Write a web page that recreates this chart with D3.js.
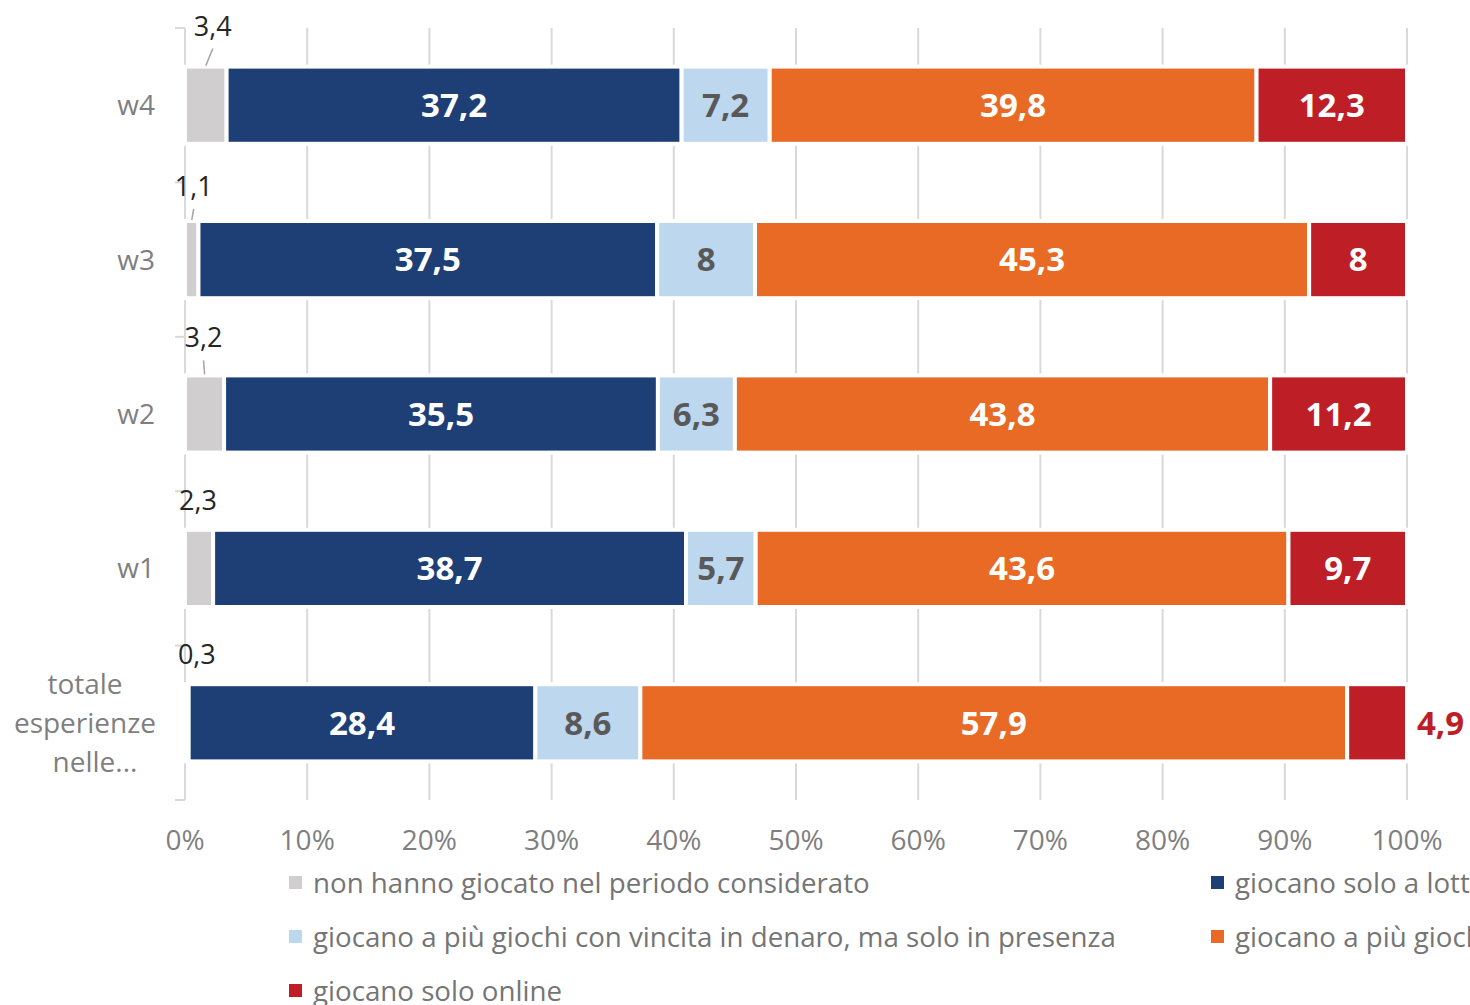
<!DOCTYPE html>
<html>
<head>
<meta charset="utf-8">
<script src="https://cdn.jsdelivr.net/npm/d3@7"></script>
<style>
  body { margin: 0; background: #fff; }
  svg { display: block; font-family: "Open Sans", "Noto Sans", sans-serif; }
</style>
</head>
<body>
<svg id="chart" width="1470" height="1005"></svg>
<script>
// data
var categories = ["w4", "w3", "w2", "w1", "totale esperienze nelle..."];
var seriesNames = [
  "non hanno giocato nel periodo considerato",
  "giocano solo a lotterie e gratta e vinci",
  "giocano a più giochi con vincita in denaro, ma solo in presenza",
  "giocano a più giochi con vincita in denaro, anche online",
  "giocano solo online"
];
var nonGiocato   = [3.4, 1.1, 3.2, 2.3, 0.3];
var soloLotterie = [37.2, 37.5, 35.5, 38.7, 28.4];
var soloPresenza = [7.2, 8, 6.3, 5.7, 8.6];
var piuGiochi    = [39.8, 45.3, 43.8, 43.6, 57.9];
var soloOnline   = [12.3, 8, 11.2, 9.7, 4.9];
var tickValues   = [0, 10, 20, 30, 40, 50, 60, 70, 80, 90, 100];
var tickLabels   = ["0%", "10%", "20%", "30%", "40%", "50%", "60%", "70%", "80%", "90%", "100%"];

var colors = ["#d0cece", "#1e3f76", "#bdd7ee", "#e86a24", "#be1e26"];
var labelColors = ["#262626", "#ffffff", "#595959", "#ffffff", "#ffffff"];

// where excel dragged the small grey labels (dx from segment centre, gap above bar)
var calloutDx  = [7, 2, -1, -1, 10];
var calloutGap = [33, 27, 30, 22, 22];
var hasLeader  = [true, true, true, false, false];

var keys = ["k0", "k1", "k2", "k3", "k4"];
var allSeries = [nonGiocato, soloLotterie, soloPresenza, piuGiochi, soloOnline];
var rows = categories.map(function(c, i) {
  var r = { cat: c };
  keys.forEach(function(k, j) { r[k] = allSeries[j][i]; });
  return r;
});

var svg = d3.select("#chart");

var x = d3.scaleLinear().domain([0, 1]).range([185, 1407]);
var y = d3.scaleBand().domain(categories).range([28, 800])
  .paddingInner(0.5).paddingOuter(0.25);

var stacked = d3.stack().keys(keys).offset(d3.stackOffsetExpand)(rows);

// gridlines
svg.append("g").selectAll("line")
  .data(tickValues.slice(1))
  .join("line")
    .attr("x1", function(d) { return x(d / 100); })
    .attr("x2", function(d) { return x(d / 100); })
    .attr("y1", 28).attr("y2", 800)
    .style("stroke", "#d9d9d9")
    .style("stroke-width", "2px");

// category axis line + ticks
var axis = svg.append("g");
axis.append("line")
  .attr("x1", 185).attr("x2", 185).attr("y1", 28).attr("y2", 800)
  .style("stroke", "#d9d9d9").style("stroke-width", "2px");
var bounds = categories.map(function(c) { return y(c) - y.step() * y.paddingInner() / 2; });
bounds.push(800);
axis.selectAll("line.tk")
  .data(bounds)
  .join("line").attr("class", "tk")
    .attr("x1", 175).attr("x2", 185)
    .attr("y1", function(d) { return d; }).attr("y2", function(d) { return d; })
    .style("stroke", "#d9d9d9").style("stroke-width", "2px");

// bars
var groups = svg.append("g").selectAll("g")
  .data(stacked)
  .join("g")
    .style("fill", function(d, i) { return colors[i]; });

groups.selectAll("rect")
  .data(function(d) { return d; })
  .join("rect")
    .attr("x", function(d) { return x(d[0]); })
    .attr("width", function(d) { return x(d[1]) - x(d[0]); })
    .attr("y", function(d) { return y(d.data.cat); })
    .attr("height", y.bandwidth())
    .style("stroke", "#fff")
    .style("stroke-width", "4px");

function fmt(v) { return String(v).replace(".", ","); }

// value labels
var labels = svg.append("g");
stacked.forEach(function(s, si) {
  s.forEach(function(d, ci) {
    var v = allSeries[si][ci];
    var x0 = x(d[0]), x1 = x(d[1]);
    var cy = y(d.data.cat) + y.bandwidth() / 2;
    if (si === 0) {
      // small grey share, written above the bar
      var mid = (x0 + x1) / 2;
      var lx = mid + calloutDx[ci];
      var top = y(d.data.cat) + 2;
      var base = top - calloutGap[ci];
      labels.append("text")
        .attr("x", lx).attr("y", base)
        .attr("text-anchor", "middle")
        .style("font-size", "27px")
        .style("fill", labelColors[0])
        .text(fmt(v));
      if (hasLeader[ci]) {
        labels.append("line")
          .attr("x1", mid).attr("y1", top - 3)
          .attr("x2", lx).attr("y2", base + 13)
          .style("stroke", "#a6a6a6").style("stroke-width", "1.5px");
      }
    } else if (x1 - x0 < 60) {
      labels.append("text")
        .attr("x", x1 + 10).attr("y", cy).attr("dy", "0.36em")
        .style("font-size", "33px").style("font-weight", "bold")
        .style("fill", colors[si])
        .text(fmt(v));
    } else {
      labels.append("text")
        .attr("x", (x0 + x1) / 2).attr("y", cy).attr("dy", "0.36em")
        .attr("text-anchor", "middle")
        .style("font-size", "33px").style("font-weight", "bold")
        .style("fill", labelColors[si])
        .text(fmt(v));
    }
  });
});

// category labels
var catG = svg.append("g").style("fill", "#7f7f7f").style("font-size", "28px");
categories.forEach(function(c, i) {
  var cy = y(c) + y.bandwidth() / 2;
  if (i < 4) {
    catG.append("text").attr("x", 155).attr("y", cy).attr("dy", "0.36em")
      .attr("text-anchor", "end").text(c);
  } else {
    var lines = ["totale", "esperienze", "nelle..."];
    lines.forEach(function(l, li) {
      catG.append("text")
        .attr("x", li === 2 ? 95 : 85)
        .attr("y", cy + (li - 1) * 39).attr("dy", "0.36em")
        .attr("text-anchor", "middle").text(l);
    });
  }
});

// x axis tick labels
svg.append("g").selectAll("text")
  .data(tickValues)
  .join("text")
    .attr("x", function(d) { return x(d / 100); })
    .attr("y", 840).attr("dy", "0.36em")
    .attr("text-anchor", "middle")
    .style("font-size", "28px")
    .style("fill", "#7f7f7f")
    .text(function(d, i) { return tickLabels[i]; });

// legend
var legendPos = [[289, 883], [1211, 883], [289, 937], [1211, 937], [289, 991]];
var leg = svg.append("g");
seriesNames.forEach(function(n, i) {
  var p = legendPos[i];
  leg.append("rect")
    .attr("x", p[0]).attr("y", p[1] - 7).attr("width", 13).attr("height", 13)
    .style("fill", colors[i]);
  leg.append("text")
    .attr("x", p[0] + 24).attr("y", p[1]).attr("dy", "0.36em")
    .style("font-size", "27.7px").style("fill", "#757575")
    .text(n);
});
</script>
</body>
</html>
